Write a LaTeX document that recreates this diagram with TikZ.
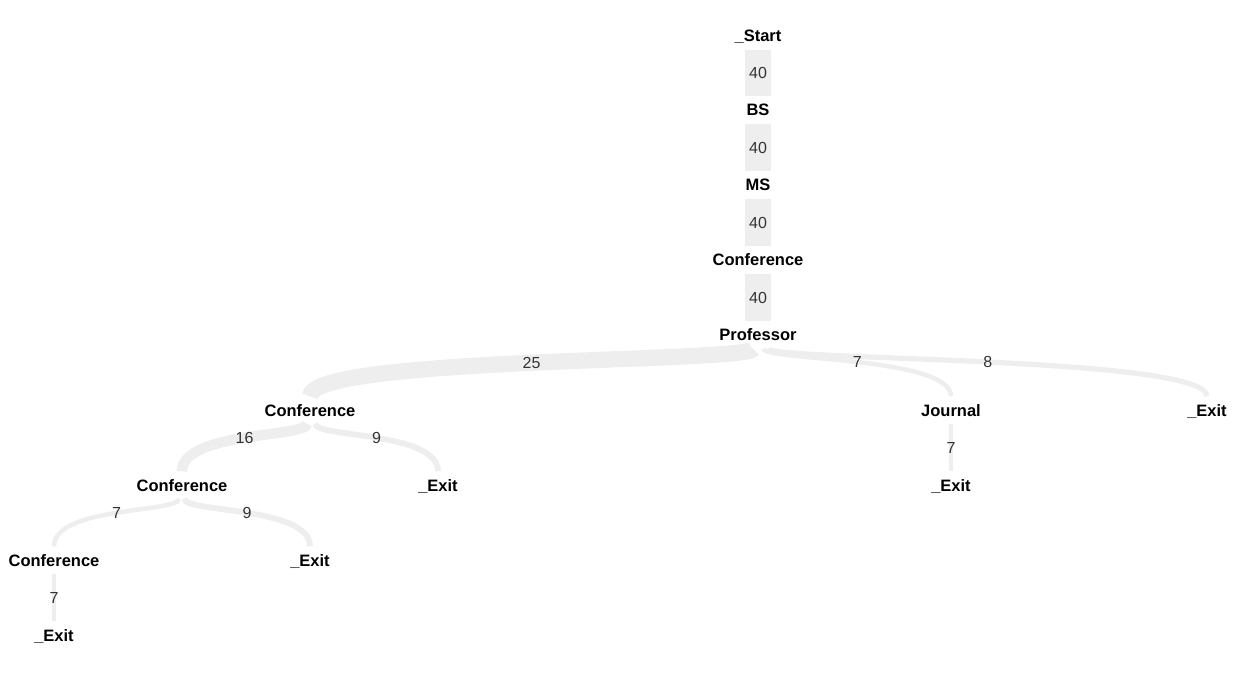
\documentclass[tikz,border=0pt]{standalone}
\usepackage{fontspec}
\setmainfont{Liberation Sans}
\definecolor{flowgray}{HTML}{EEEEEE}
\definecolor{countgray}{HTML}{333333}

\begin{document}
\begin{tikzpicture}[x=1pt, y=-1pt,
    state/.style={font=\bfseries\fontsize{16.5}{18}\selectfont, inner xsep=2pt, inner ysep=7.5pt, text height=12pt, text depth=0pt},
    flow/.style={draw=flowgray, line width=#1*0.65pt},
    count/.style={text=countgray, font=\fontsize{16}{18}\selectfont, inner sep=1pt}]
  \useasboundingbox (0,0) rectangle (1245,676);
  % trunk
  \foreach \N/\T/\Y in {start/\_Start/36, bs/BS/110, ms/MS/185, conf0/Conference/260, prof/Professor/335} {
    \node[state] (\N) at (758, \Y) {\T};
  }
  \foreach \A/\B in {start/bs, bs/ms, ms/conf0, conf0/prof} {
    \draw[flow=40] (\A.south) -- (\B.north) node [count, midway] {40};
  }
  % second level
  \node[state] (conf1) at (310, 410) {Conference};
  \node[state] (jour) at (951, 410) {Journal};
  \node[state] (exit1) at (1207, 410) {\_Exit};
  \node[state] (conf2) at (182, 485) {Conference};
  \node[state] (exit2) at (438, 485) {\_Exit};
  \node[state] (exit3) at (951, 485) {\_Exit};
  \node[state] (conf3) at (54, 560) {Conference};
  \node[state] (exit4) at (310, 560) {\_Exit};
  \node[state] (exit5) at (54, 635) {\_Exit};
  % branches
  \draw[flow=25] ([xshift=-4.9pt]prof.south) .. controls +(0,14) and +(0,-40) .. (conf1.north) node [count, pos=0.5] {25};
  \draw[flow=8] ([xshift=10.4pt]prof.south) .. controls +(0,12) and +(0,-40) .. (exit1.north) node [count, pos=0.5] {8};
  \draw[flow=7] ([xshift=5.5pt]prof.south) .. controls +(0,12) and +(0,-40) .. (jour.north) node [count, pos=0.5] {7};
  \draw[flow=16] ([xshift=-2.9pt]conf1.south) .. controls +(0,14) and +(0,-40) .. (conf2.north) node [count, pos=0.5] {16};
  \draw[flow=9] ([xshift=5.2pt]conf1.south) .. controls +(0,14) and +(0,-40) .. (exit2.north) node [count, pos=0.5] {9};
  \draw[flow=7] ([xshift=-2.9pt]conf2.south) .. controls +(0,14) and +(0,-40) .. (conf3.north) node [count, pos=0.5] {7};
  \draw[flow=9] ([xshift=2.3pt]conf2.south) .. controls +(0,14) and +(0,-40) .. (exit4.north) node [count, pos=0.5] {9};
  \draw[flow=7] (jour.south) -- (exit3.north) node [count, midway] {7};
  \draw[flow=7] (conf3.south) -- (exit5.north) node [count, midway] {7};
\end{tikzpicture}
\end{document}
